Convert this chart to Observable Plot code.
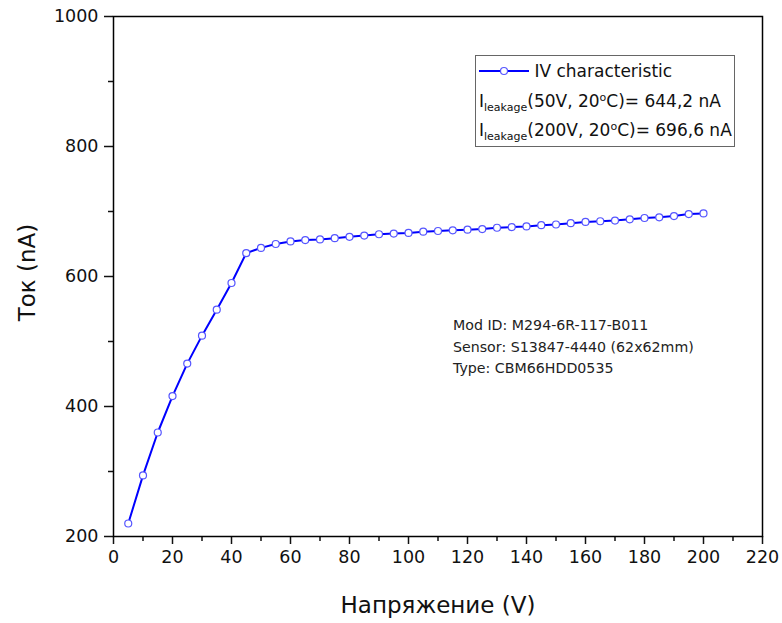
<!DOCTYPE html>
<html>
<head>
<meta charset="utf-8">
<script src="https://cdn.jsdelivr.net/npm/d3@7"></script>
<script src="https://cdn.jsdelivr.net/npm/@observablehq/plot@0.6"></script>
<style>
  html, body { margin: 0; padding: 0; background: #fff; }
  #wrap { position: relative; width: 782px; height: 623px; font-family: "DejaVu Sans", sans-serif; }
  #legend { position: absolute; left: 475px; top: 55px; width: 260px; height: 92px; border: 1px solid #666; background: #fff; font-size: 17px; color: #111; line-height: 29.5px; padding-left: 3px; padding-top: 1px; box-sizing: border-box; white-space: nowrap; }
  #legend sub, #legend sup { font-size: 11px; line-height: 0; }
  #legend sub { vertical-align: -4px; }
  #legend sup { vertical-align: 6px; }
  #note { position: absolute; left: 453px; top: 315px; font-size: 14.2px; line-height: 21.5px; color: #222; white-space: pre; }
</style>
</head>
<body>
<div id="wrap">
  <div id="chart"></div>
  <div id="legend">
    <div><svg width="50" height="14" style="vertical-align:-1px"><line x1="0" y1="7" x2="50" y2="7" stroke="#0000ff" stroke-width="2"/><circle cx="25" cy="7" r="3.5" fill="#fff" stroke="#5555ff" stroke-width="1.2"/></svg> IV characteristic</div>
    <div>I<sub>leakage</sub>(50V, 20<sup>o</sup>C)= 644,2 nA</div>
    <div>I<sub>leakage</sub>(200V, 20<sup>o</sup>C)= 696,6 nA</div>
  </div>
  <div id="note"></div>
</div>
<script>
const voltage = [5, 10, 15, 20, 25, 30, 35, 40, 45, 50, 55, 60, 65, 70, 75, 80, 85, 90, 95, 100,
  105, 110, 115, 120, 125, 130, 135, 140, 145, 150, 155, 160, 165, 170, 175, 180, 185, 190, 195, 200];
const current = [220, 294, 360, 416, 466, 509, 549, 590, 636, 644, 650, 654, 656, 657, 659, 661, 663, 665, 666, 667,
  669, 670, 671, 672, 673, 675, 676, 677, 679, 680, 682, 684, 685, 686, 688, 690, 691, 693, 696, 697];
const xMajor = [0, 20, 40, 60, 80, 100, 120, 140, 160, 180, 200, 220];
const xMinor = [10, 30, 50, 70, 90, 110, 130, 150, 170, 190, 210];
const yMajor = [200, 400, 600, 800, 1000];
const yMinor = [300, 500, 700, 900];
const xTitle = "Напряжение (V)";
const yTitle = "Ток (nA)";
const noteLines = ["Mod ID: M294-6R-117-B011", "Sensor: S13847-4440 (62x62mm)", "Type: CBM66HDD0535"];

const data = voltage.map((v, i) => ({v, c: current[i]}));

const chart = Plot.plot({
  width: 782,
  height: 623,
  marginLeft: 113,
  marginRight: 20,
  marginTop: 16,
  marginBottom: 87,
  style: {fontFamily: "DejaVu Sans, sans-serif", background: "#fff", color: "#111"},
  x: {domain: [0, 220]},
  y: {domain: [200, 1000]},
  marks: [
    Plot.axisX({ticks: xMajor, tickSize: 8, tickPadding: 6, fontSize: 17.5, tickFormat: d3.format("d"), label: null, strokeWidth: 1.5}),
    Plot.axisX({ticks: xMinor, tickSize: 5, text: null, label: null, strokeWidth: 1.5}),
    Plot.axisY({ticks: yMajor, tickSize: 9, tickPadding: 6, fontSize: 17.5, tickFormat: d3.format("d"), label: null, strokeWidth: 1.5}),
    Plot.axisY({ticks: yMinor, tickSize: 5, text: null, label: null, strokeWidth: 1.5}),
    Plot.frame({stroke: "#000", strokeWidth: 1.5}),
    Plot.line(data, {x: "v", y: "c", stroke: "#0000ff", strokeWidth: 2}),
    Plot.dot(data, {x: "v", y: "c", r: 3.5, fill: "#fff", stroke: "#5555ff", strokeWidth: 1.2}),
    Plot.text([yTitle], {frameAnchor: "left", textAnchor: "middle", rotate: -90, dx: -86, dy: -4, fontSize: 23, fill: "#111"}),
    Plot.text([xTitle], {frameAnchor: "bottom", textAnchor: "middle", dy: 76, fontSize: 23, fill: "#111"})
  ]
});
document.getElementById("chart").appendChild(chart);
document.getElementById("note").textContent = noteLines.join("\n");
</script>
</body>
</html>
